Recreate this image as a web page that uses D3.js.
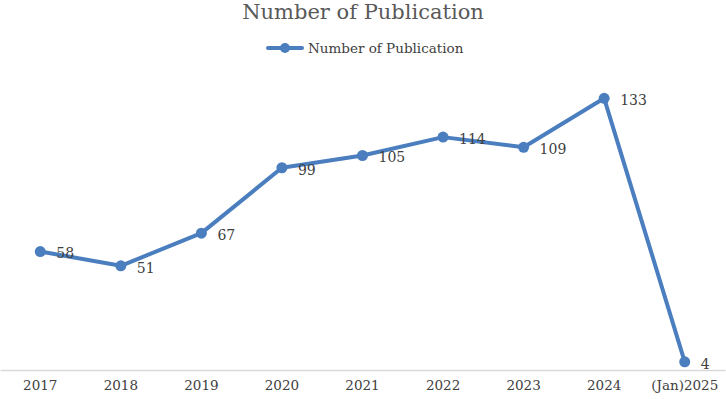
<!DOCTYPE html>
<html>
<head>
<meta charset="utf-8">
<script src="https://cdn.jsdelivr.net/npm/d3@7"></script>
<style>
  html, body { margin: 0; padding: 0; background: #fff; }
  svg { display: block; font-family: "DejaVu Serif", "Liberation Serif", serif; }
</style>
</head>
<body>
<div id="chart"></div>
<script>
const years = ["2017", "2018", "2019", "2020", "2021", "2022", "2023", "2024", "(Jan)2025"];
const publications = [58, 51, 67, 99, 105, 114, 109, 133, 4];
const seriesName = "Number of Publication";

const W = 726, H = 399;
const margin = { top: 84, right: 1, bottom: 29, left: 0 };
const width = W - margin.left - margin.right;
const height = H - margin.top - margin.bottom;
const LINE_COLOR = "#4a7ebf";

const data = years.map((y, i) => ({ year: y, value: publications[i] }));

const svg = d3.select("#chart").append("svg")
    .attr("width", W)
    .attr("height", H);

svg.append("text")
    .attr("x", W / 2)
    .attr("y", 19)
    .attr("text-anchor", "middle")
    .style("font-size", "21px")
    .style("fill", "#595959")
    .text(seriesName);

// legend
const legend = svg.append("g").attr("transform", "translate(268, 48)");
legend.append("line")
    .attr("x1", 0).attr("x2", 34)
    .attr("stroke", LINE_COLOR)
    .attr("stroke-width", 4)
    .attr("stroke-linecap", "round");
legend.append("circle")
    .attr("cx", 17).attr("r", 5)
    .attr("fill", LINE_COLOR);
legend.append("text")
    .attr("x", 40)
    .attr("dy", "0.35em")
    .style("font-size", "13.5px")
    .style("fill", "#404040")
    .text(seriesName);

const g = svg.append("g")
    .attr("transform", `translate(${margin.left}, ${margin.top})`);

const x = d3.scaleBand()
    .domain(years)
    .range([0, width]);

const y = d3.scaleLinear()
    .domain([0, 140])
    .range([height, 0]);

const cx = d => x(d.year) + x.bandwidth() / 2;

// category axis
const xAxis = g.append("g")
    .attr("transform", `translate(0, ${height})`)
    .call(d3.axisBottom(x).tickSize(0).tickPadding(10));
xAxis.select(".domain").attr("stroke", "#d9d9d9").attr("stroke-width", 1.5);
xAxis.selectAll("text")
    .style("font-family", "DejaVu Serif, serif")
    .style("font-size", "13.5px")
    .style("fill", "#404040");

const line = d3.line()
    .x(cx)
    .y(d => y(d.value));

g.append("path")
    .datum(data)
    .attr("fill", "none")
    .attr("stroke", LINE_COLOR)
    .attr("stroke-width", 4)
    .attr("stroke-linejoin", "round")
    .attr("d", line);

g.selectAll(".dot")
    .data(data)
    .enter().append("circle")
    .attr("class", "dot")
    .attr("cx", cx)
    .attr("cy", d => y(d.value))
    .attr("r", 5.5)
    .attr("fill", LINE_COLOR);

g.selectAll(".label")
    .data(data)
    .enter().append("text")
    .attr("class", "label")
    .attr("x", d => cx(d) + 16)
    .attr("y", d => y(d.value) + 2)
    .attr("dy", "0.35em")
    .style("font-size", "14px")
    .style("fill", "#404040")
    .text(d => d.value);
</script>
</body>
</html>
